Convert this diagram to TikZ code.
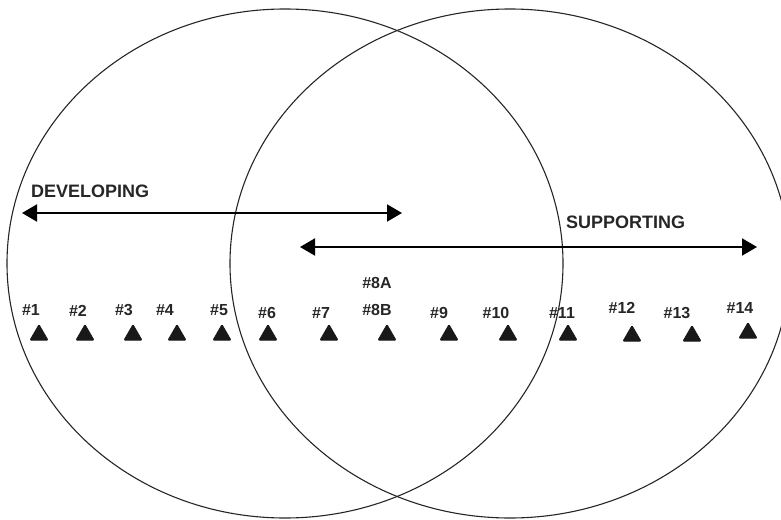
\documentclass[tikz,border=0pt]{standalone}
\usepackage{fontspec}
\setmainfont{Liberation Sans}
\usetikzlibrary{arrows.meta,shapes.geometric}
\tikzset{
  circ/.style={line width=1.1pt, draw=black!85},
  dbl/.style={line width=2pt, {Triangle[length=15pt,width=17pt]}-{Triangle[length=15pt,width=17pt]}},
  biglbl/.style={font=\fontsize{18}{20}\selectfont\bfseries, text=black!85, inner sep=0pt, anchor=base west},
  numlbl/.style={font=\fontsize{16}{18}\selectfont\bfseries, text=black!85, inner sep=0pt, anchor=base},
  tri/.style={regular polygon, regular polygon sides=3, minimum size=20.8pt, inner sep=0pt, fill=black!90, draw=black!90, line width=0.8pt, rounded corners=1pt}
}
\begin{document}
\begin{tikzpicture}[x=1pt,y=-1pt]
\useasboundingbox (0,0) rectangle (781,519);
\begin{scope}
\clip (0,0) rectangle (781,519);
\draw[circ] (285,263.5) ellipse [x radius=278pt, y radius=254.5pt];
\draw[circ] (510,263.5) ellipse [x radius=280pt, y radius=254.5pt];
\end{scope}
% labels for arrows
\node[biglbl] (dev) at (31,197) {DEVELOPING};
\node[biglbl] (sup) at (566,228) {SUPPORTING};
\coordinate (devL) at (22,213);
\coordinate (devR) at (402,213);
\coordinate (supL) at (300,247);
\coordinate (supR) at (757,247);
\draw[dbl] (devL) -- (devR);
\draw[dbl] (supL) -- (supR);
% number labels
\node[numlbl] (n1) at (31,315) {\#1};
\node[numlbl] (n2) at (78,316) {\#2};
\node[numlbl] (n3) at (124,315) {\#3};
\node[numlbl] (n4) at (165,315) {\#4};
\node[numlbl] (n5) at (219,315) {\#5};
\node[numlbl] (n6) at (267,318) {\#6};
\node[numlbl] (n7) at (321,318) {\#7};
\node[numlbl] (n8a) at (377,288) {\#8A};
\node[numlbl] (n8b) at (377,315) {\#8B};
\node[numlbl] (n9) at (439,318) {\#9};
\node[numlbl] (n10) at (496,318) {\#10};
\node[numlbl] (n11) at (562,318) {\#11};
\node[numlbl] (n12) at (622,313) {\#12};
\node[numlbl] (n13) at (677,318) {\#13};
\node[numlbl] (n14) at (740,313) {\#14};
% triangles
\node[tri] (t1) at (39,335) {};
\node[tri] (t2) at (85,335) {};
\node[tri] (t3) at (133,335) {};
\node[tri] (t4) at (177,335) {};
\node[tri] (t5) at (222,335) {};
\node[tri] (t6) at (268,335) {};
\node[tri] (t7) at (329,335) {};
\node[tri] (t8) at (387,335) {};
\node[tri] (t9) at (449,335) {};
\node[tri] (t10) at (508,335) {};
\node[tri] (t11) at (568,335) {};
\node[tri] (t12) at (632,336) {};
\node[tri] (t13) at (692,336) {};
\node[tri] (t14) at (748,333) {};
\end{tikzpicture}
\end{document}
